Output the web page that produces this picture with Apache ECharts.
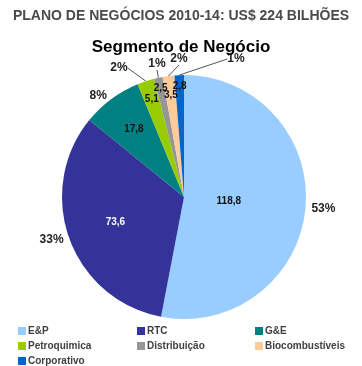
<!DOCTYPE html>
<html><head><meta charset="utf-8">
<script src="https://cdn.jsdelivr.net/npm/echarts@6/dist/echarts.min.js"></script>
<style>html,body{margin:0;padding:0;background:#fff}#c{width:362px;height:366px}</style>
</head><body><div id="c"></div>
<script>
const categories = ['E&P','RTC','G&E','Petroquimica','Distribuição','Biocombustíveis','Corporativo'];
const values = [118.8, 73.6, 17.8, 5.1, 2.5, 3.5, 2.8];
const colors = ['#99CCFF','#333399','#008080','#99CC00','#969696','#FFCC99','#0066CC'];
const titleText = 'PLANO DE NEGÓCIOS 2010-14: US$ 224 BILHÕES';
const subtitleText = 'Segmento de Negócio';

// layout / style settings
const center = [184, 197];
const R = 122;
const small = ['Petroquimica','Distribuição','Biocombustíveis','Corporativo'];
const smallLabelPos = { 'Petroquimica': [119, 68], 'Distribuição': [157, 64], 'Biocombustíveis': [179, 59], 'Corporativo': [236, 59] };
const FONT = 'Liberation Sans, Arial';
const fmt = v => String(v).replace('.', ',');

function labelSeries(radius, names) {
  return {
    type: 'pie', radius: radius, center: center, startAngle: 90, clockwise: true,
    silent: true, animation: false, z: 5, avoidLabelOverlap: false,
    itemStyle: { color: 'rgba(0,0,0,0)', borderWidth: 0 },
    labelLine: { show: false },
    data: categories.map((n, i) => ({
      name: n, value: values[i],
      label: {
        show: names.includes(n), position: 'inside',
        color: n === 'RTC' ? '#ffffff' : '#111111'
      }
    })),
    label: {
      fontFamily: FONT, fontWeight: 'bold', fontSize: 10,
      formatter: p => fmt(p.value)
    },
    labelLayout: { hideOverlap: false }
  };
}

const option = {
  animation: false,
  title: [
    { text: titleText, left: 'center', top: 4,
      textStyle: { fontFamily: FONT, fontWeight: 'bold', fontSize: 14, color: '#4a4a4a' } },
    { text: subtitleText, left: 'center', top: 34,
      textStyle: { fontFamily: FONT, fontWeight: 'bold', fontSize: 17, color: '#000000' } }
  ],
  color: colors,
  legend: [
    { data: ['E&P','Petroquimica','Corporativo'], left: 18 },
    { data: ['RTC','Distribuição'], left: 137 },
    { data: ['G&E','Biocombustíveis'], left: 255 }
  ].map(l => Object.assign(l, {
    top: 326, height: 60, padding: 0,
    orient: 'vertical', icon: 'rect', itemWidth: 8, itemHeight: 8, itemGap: 5,
    selectedMode: false,
    textStyle: { fontFamily: FONT, fontWeight: 'bold', fontSize: 10, color: '#404040', padding: [0,0,0,-3] }
  })),
  series: [
    {
      type: 'pie', radius: [0, R], center: center, startAngle: 90, clockwise: true,
      avoidLabelOverlap: false,
      itemStyle: { borderWidth: 0 },
      data: categories.map((n, i) => ({
        name: n, value: values[i],
        labelLine: { show: small.includes(n), length: 4, length2: 0 }
      })),
      percentPrecision: 0,
      label: {
        show: true, position: 'outside', distanceToLabelLine: 2,
        fontFamily: FONT, fontWeight: 'bold', fontSize: 12, color: '#222222',
        formatter: '{d}%'
      },
      labelLine: { length: 4, length2: 0, lineStyle: { color: '#555555', width: 1 } },
      labelLayout: function (params) {
        const p = smallLabelPos[categories[params.dataIndex]];
        if (p) return { x: p[0], y: p[1], align: 'center', verticalAlign: 'middle' };
        return {};
      }
    },
    labelSeries([0, 84], ['E&P']),
    labelSeries([0, 140], ['RTC']),
    labelSeries([40, 122], ['G&E']),
    labelSeries([82, 118], ['Petroquimica', 'Biocombustíveis']),
    labelSeries([96, 120], ['Distribuição', 'Corporativo'])
  ]
};
const chart = echarts.init(document.getElementById('c'), null, { renderer: 'canvas' });
chart.setOption(option);
</script></body></html>
